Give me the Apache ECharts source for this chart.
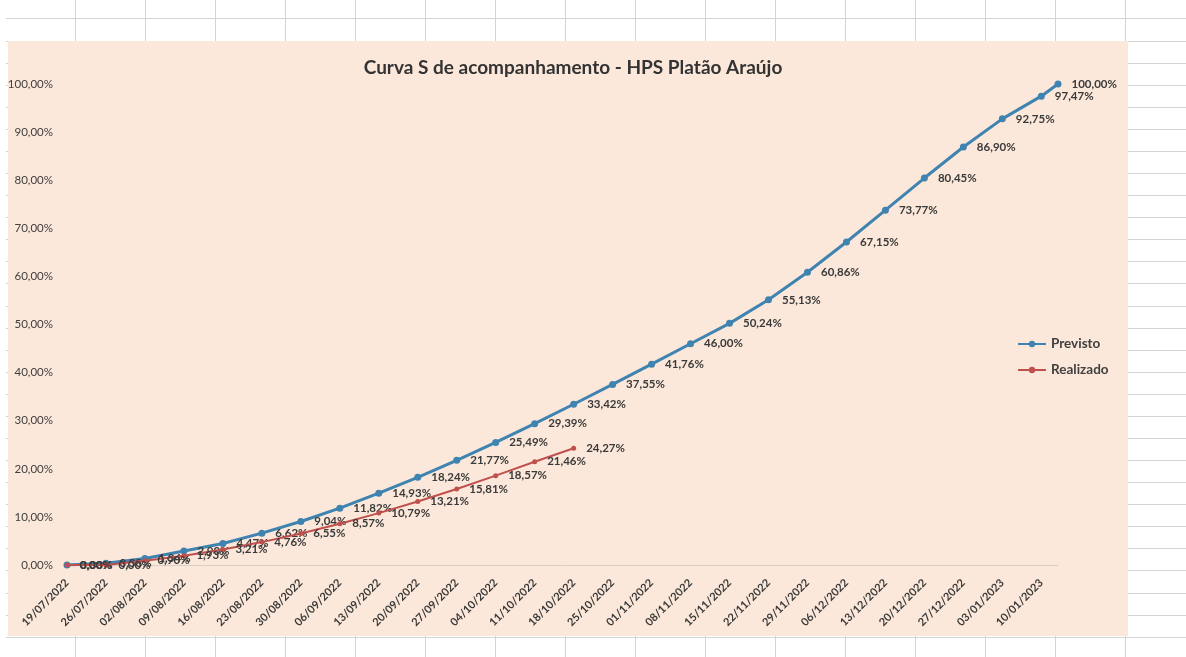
<!DOCTYPE html>
<html>
<head>
<meta charset="utf-8">
<script src="https://cdn.jsdelivr.net/npm/echarts@6/dist/echarts.min.js"></script>
<style>
  html, body { margin: 0; padding: 0; width: 1186px; height: 657px; overflow: hidden; background: #ffffff; }
  #sheet {
    position: absolute; left: 6px; top: 0; width: 1180px; height: 657px;
    background-image:
      repeating-linear-gradient(to right, transparent 0px, transparent 69px, #d4d4d4 69px, #d4d4d4 70px),
      repeating-linear-gradient(to bottom, transparent 0px, transparent 18.5px, #d4d4d4 18.5px, #d4d4d4 19.5px, transparent 19.5px, transparent 22.08px);
  }
  #area { position: absolute; left: 8px; top: 41px; width: 1120px; height: 595px; background: #fce8da; }
  #chart { position: absolute; left: 0; top: 0; width: 1186px; height: 657px; }
</style>
</head>
<body>
<div id="sheet"></div>
<div id="area"></div>
<div id="chart"></div>
<script>
// Dates (weekly schedule; last point is the end date)
const previstoDates = [
  '19/07/2022','26/07/2022','02/08/2022','09/08/2022','16/08/2022','23/08/2022','30/08/2022',
  '06/09/2022','13/09/2022','20/09/2022','27/09/2022','04/10/2022','11/10/2022','18/10/2022',
  '25/10/2022','01/11/2022','08/11/2022','15/11/2022','22/11/2022','29/11/2022','06/12/2022',
  '13/12/2022','20/12/2022','27/12/2022','03/01/2023','10/01/2023','13/01/2023'
];
const previstoValues = [
  0.00, 0.38, 1.34, 2.90, 4.47, 6.62, 9.04, 11.82, 14.93, 18.24, 21.77, 25.49, 29.39, 33.42,
  37.55, 41.76, 46.00, 50.24, 55.13, 60.86, 67.15, 73.77, 80.45, 86.90, 92.75, 97.47, 100.00
];
const realizadoDates = previstoDates.slice(0, 14);
const realizadoValues = [
  0.00, 0.00, 0.90, 1.93, 3.21, 4.76, 6.55, 8.57, 10.79, 13.21, 15.81, 18.57, 21.46, 24.27
];
const yTicks = [0, 10, 20, 30, 40, 50, 60, 70, 80, 90, 100];

const startDate = '19/07/2022';
const endDate = '13/01/2023';

function toUTC(s) { const p = s.split('/'); return Date.UTC(+p[2], +p[1] - 1, +p[0]); }
const DAY = 86400000;
const t0 = toUTC(startDate);
function dayOf(s) { return Math.round((toUTC(s) - t0) / DAY); }
function fmtDay(d) {
  const dt = new Date(t0 + d * DAY);
  const dd = String(dt.getUTCDate()).padStart(2, '0');
  const mm = String(dt.getUTCMonth() + 1).padStart(2, '0');
  return dd + '/' + mm + '/' + dt.getUTCFullYear();
}
function pct(v) { return v.toFixed(2).replace('.', ',') + '%'; }

const previstoData = previstoDates.map((d, i) => [dayOf(d), previstoValues[i]]);
const realizadoData = realizadoDates.map((d, i) => [dayOf(d), realizadoValues[i]]);

const FONT = 'Lato, "Open Sans", sans-serif';
const labelStyle = {
  show: true, position: 'right', distance: 10,
  fontFamily: FONT, fontSize: 11.5, fontWeight: 'bold', color: '#3a3a3a',
  formatter: p => pct(p.value[1])
};
const chart = echarts.init(document.getElementById('chart'), null, { renderer: 'canvas' });
chart.setOption({
  backgroundColor: 'transparent',
  animation: false,
  title: {
    text: 'Curva S de acompanhamento - HPS Platão Araújo',
    left: 568, top: 53, textAlign: 'center',
    textStyle: { fontFamily: FONT, fontSize: 19, fontWeight: 'bold', color: '#333333' }
  },
  legend: {
    orient: 'vertical', left: 1012, top: 332, itemGap: 12, itemWidth: 28, itemHeight: 8,
    textStyle: { fontFamily: FONT, fontSize: 13.5, fontWeight: 'bold', color: '#404040' },
    data: ['Previsto', 'Realizado']
  },
  grid: { left: 67, right: 128, top: 84, bottom: 92, containLabel: false },
  xAxis: {
    type: 'value', min: 0, max: dayOf(endDate), interval: 7,
    axisLine: { show: true, lineStyle: { color: '#d9d0c8', width: 1 } },
    axisTick: { show: false },
    splitLine: { show: false },
    axisLabel: {
      rotate: 45, margin: 16, showMaxLabel: false,
      fontFamily: FONT, fontSize: 11, fontWeight: 'bold', color: '#3a3a3a',
      formatter: v => (v % 7 === 0 ? fmtDay(v) : '')
    }
  },
  yAxis: {
    type: 'value', min: yTicks[0], max: yTicks[yTicks.length - 1], interval: 10,
    axisLine: { show: false }, axisTick: { show: false }, splitLine: { show: false },
    axisLabel: { margin: 14, fontFamily: FONT, fontSize: 11.5, color: '#404040', formatter: v => pct(v) }
  },
  series: [
    {
      name: 'Previsto', type: 'line', data: previstoData,
      symbol: 'circle', symbolSize: 7,
      lineStyle: { color: '#3f83b0', width: 3 },
      itemStyle: { color: '#3f83b0' },
      label: labelStyle,
      z: 3
    },
    {
      name: 'Realizado', type: 'line', data: realizadoData,
      symbol: 'circle', symbolSize: 5,
      lineStyle: { color: '#c0504d', width: 2 },
      itemStyle: { color: '#c0504d' },
      label: labelStyle,
      z: 4
    }
  ]
});
</script>
</body>
</html>
